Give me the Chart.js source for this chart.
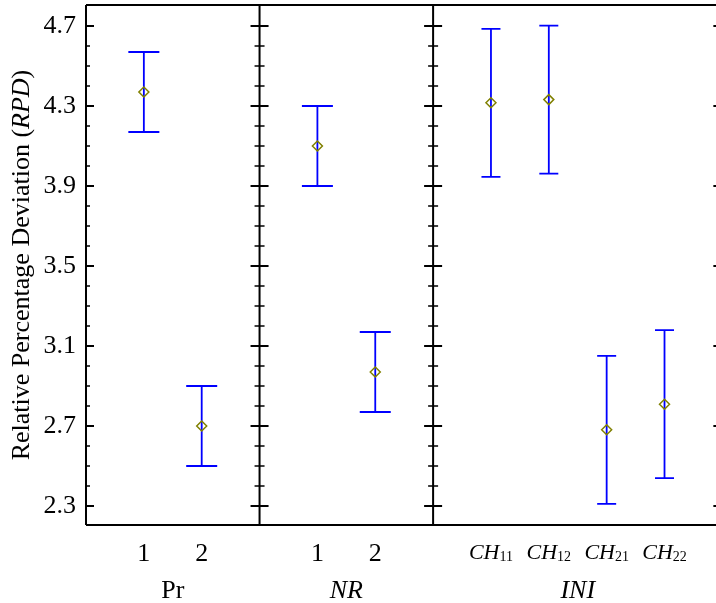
<!DOCTYPE html>
<html>
<head>
<meta charset="utf-8">
<script src="https://cdn.jsdelivr.net/npm/chart.js@4"></script>
<style>
  html, body { margin: 0; padding: 0; background: #fff; }
</style>
</head>
<body>
<canvas id="myChart" width="716" height="603"></canvas>
<script>
// factor levels in each panel
const prLabels = ['1', '2'];
const nrLabels = ['1', '2'];
const iniLabels = ['CH11', 'CH12', 'CH21', 'CH22'];

// mean RPD and half width of the interval
const prMeans = [4.37, 2.70];
const prErrors = [0.20, 0.20];
const nrMeans = [4.10, 2.97];
const nrErrors = [0.20, 0.20];
const iniMeans = [4.316, 4.332, 2.681, 2.809];
const iniErrors = [0.37, 0.37, 0.37, 0.37];

const yTicks = [2.3, 2.7, 3.1, 3.5, 3.9, 4.3, 4.7];

const FONT = "'Liberation Serif', 'Times New Roman', serif";

// panels laid out side by side on one linear x scale
const panels = [
    { title: 'Pr', italic: false, labels: prLabels, means: prMeans, errors: prErrors, span: 3, cap: 15.5 },
    { title: 'NR', italic: true, labels: nrLabels, means: nrMeans, errors: nrErrors, span: 3, cap: 15.5 },
    { title: 'INI', italic: true, labels: iniLabels, means: iniMeans, errors: iniErrors, span: 5, cap: 9.5 }
];
let off = 0;
panels.forEach(p => { p.offset = off; off += p.span; });
const edges = [0];
panels.forEach(p => edges.push(p.offset + p.span));

const points = [];
panels.forEach(p => p.means.forEach((m, i) => points.push({ x: p.offset + i + 1, y: m })));

const minorTicks = [];
for (let i = 0; i < yTicks.length - 1; i++) {
    const step = (yTicks[i + 1] - yTicks[i]) / 4;
    for (let k = 1; k < 4; k++) minorTicks.push(yTicks[i] + k * step);
}

const panelPlugin = {
    id: 'panels',
    beforeDatasetsDraw(chart) {
        const { ctx, scales: { x, y } } = chart;
        ctx.save();
        ctx.strokeStyle = '#0000ff';
        ctx.lineWidth = 1.8;
        panels.forEach(p => {
            p.means.forEach((m, i) => {
                const px = x.getPixelForValue(p.offset + i + 1);
                const top = y.getPixelForValue(m + p.errors[i]);
                const bot = y.getPixelForValue(m - p.errors[i]);
                ctx.beginPath();
                ctx.moveTo(px, top); ctx.lineTo(px, bot);
                ctx.moveTo(px - p.cap, top); ctx.lineTo(px + p.cap, top);
                ctx.moveTo(px - p.cap, bot); ctx.lineTo(px + p.cap, bot);
                ctx.stroke();
            });
        });
        ctx.restore();
    },
    afterDraw(chart) {
        const { ctx, chartArea: a, scales: { x, y } } = chart;
        ctx.save();
        ctx.strokeStyle = '#000';
        ctx.lineWidth = 2;
        // frame
        ctx.beginPath();
        ctx.moveTo(a.left, a.top); ctx.lineTo(x.getPixelForValue(edges[edges.length - 1]), a.top);
        ctx.moveTo(a.left, a.bottom); ctx.lineTo(x.getPixelForValue(edges[edges.length - 1]), a.bottom);
        edges.forEach(e => {
            const ex = x.getPixelForValue(e);
            ctx.moveTo(ex, a.top); ctx.lineTo(ex, a.bottom);
        });
        ctx.stroke();
        // ticks on every panel edge
        edges.forEach((e, idx) => {
            const ex = x.getPixelForValue(e);
            ctx.lineWidth = 2;
            ctx.beginPath();
            yTicks.forEach(v => {
                const py = y.getPixelForValue(v);
                if (idx === 0) { ctx.moveTo(ex, py); ctx.lineTo(ex + 8, py); }
                else { ctx.moveTo(ex - 9, py); ctx.lineTo(ex + 9, py); }
            });
            ctx.stroke();
            ctx.lineWidth = 1.6;
            ctx.beginPath();
            minorTicks.forEach(v => {
                const py = y.getPixelForValue(v);
                if (idx === 0) { ctx.moveTo(ex, py); ctx.lineTo(ex + 4, py); }
                else { ctx.moveTo(ex - 5, py); ctx.lineTo(ex + 5, py); }
            });
            ctx.stroke();
        });

        // category labels and panel titles
        ctx.fillStyle = '#000';
        ctx.textBaseline = 'alphabetic';
        panels.forEach(p => {
            p.labels.forEach((lab, i) => {
                const px = x.getPixelForValue(p.offset + i + 1);
                const m = lab.match(/^([A-Za-z]+)(\d+)$/);
                if (m) {
                    ctx.font = 'italic 22px ' + FONT;
                    const w1 = ctx.measureText(m[1]).width;
                    ctx.font = '14px ' + FONT;
                    const w2 = ctx.measureText(m[2]).width;
                    const sx = px - (w1 + w2) / 2;
                    ctx.textAlign = 'left';
                    ctx.font = 'italic 22px ' + FONT;
                    ctx.fillText(m[1], sx, 559);
                    ctx.font = '14px ' + FONT;
                    ctx.fillText(m[2], sx + w1, 561);
                } else {
                    ctx.textAlign = 'center';
                    ctx.font = '26px ' + FONT;
                    ctx.fillText(lab, px, 561);
                }
            });
            ctx.textAlign = 'center';
            ctx.font = (p.italic ? 'italic ' : '') + '26px ' + FONT;
            ctx.fillText(p.title, x.getPixelForValue(p.offset + p.span / 2), 598);
        });

        // y axis title with italic abbreviation
        const parts = [['Relative Percentage Deviation (', ''], ['RPD', 'italic '], [')', '']];
        let total = 0;
        parts.forEach(pt => { ctx.font = pt[1] + '26px ' + FONT; pt.push(ctx.measureText(pt[0]).width); total += pt[2]; });
        ctx.translate(29, (a.top + a.bottom) / 2);
        ctx.rotate(-Math.PI / 2);
        ctx.textAlign = 'left';
        let tx = -total / 2;
        parts.forEach(pt => { ctx.font = pt[1] + '26px ' + FONT; ctx.fillText(pt[0], tx, 0); tx += pt[2]; });
        ctx.restore();
    }
};

const ctx = document.getElementById('myChart').getContext('2d');
const chart = new Chart(ctx, {
    type: 'scatter',
    data: {
        datasets: [{
            data: points,
            pointStyle: 'rectRot',
            pointRadius: 5,
            pointBorderWidth: 1.5,
            pointBorderColor: '#808000',
            pointBackgroundColor: 'rgba(0,0,0,0)'
        }]
    },
    options: {
        responsive: false,
        animation: false,
        layout: { autoPadding: false, padding: { top: 5, left: 0, right: 0, bottom: 0 } },
        plugins: { legend: { display: false }, tooltip: { enabled: false } },
        scales: {
            x: {
                type: 'linear',
                min: 0,
                max: 10.89,
                ticks: { display: false },
                grid: { display: false, drawTicks: false },
                border: { display: false },
                afterFit: s => { s.height = 78; s.paddingLeft = 0; s.paddingRight = 0; }
            },
            y: {
                type: 'linear',
                min: 2.205,
                max: 4.805,
                afterBuildTicks: s => { s.ticks = yTicks.map(v => ({ value: v })); },
                ticks: {
                    color: '#000',
                    padding: 10,
                    font: { family: FONT, size: 26 },
                    callback: v => v.toFixed(1)
                },
                grid: { display: false, drawTicks: false },
                border: { display: false },
                afterFit: s => { s.width = 86; s.paddingTop = 0; s.paddingBottom = 0; }
            }
        }
    },
    plugins: [panelPlugin]
});
</script>
</body>
</html>
